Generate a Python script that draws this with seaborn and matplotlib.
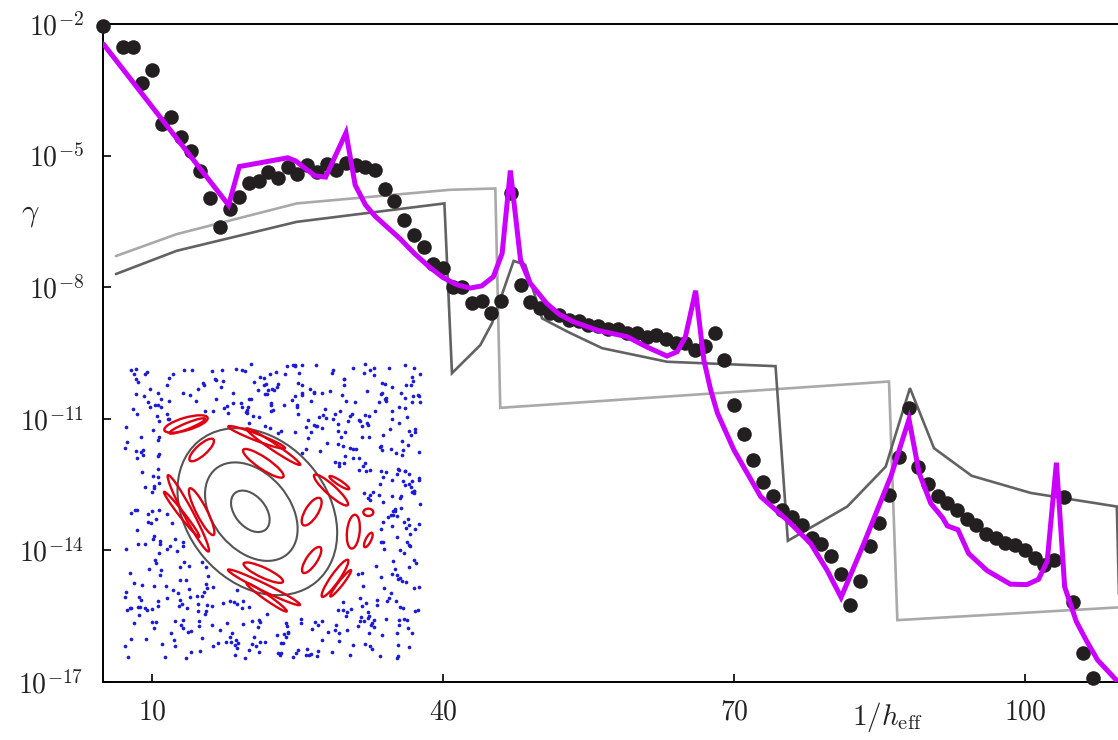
import numpy as np
import pandas as pd
import matplotlib
matplotlib.use("Agg")
import matplotlib.pyplot as plt
import seaborn as sns
from matplotlib.patches import Ellipse
from matplotlib.path import Path
from matplotlib.ticker import FixedLocator, FixedFormatter, NullLocator, NullFormatter

# ---------------- main data (log10 of gamma) ----------------
dots_x = [5, 7, 8, 9, 10, 11, 12, 13, 14, 15, 16, 17, 18, 19, 20, 21, 22, 23, 24, 25,
          26, 27, 28, 29, 30, 31, 32, 33, 34, 35, 36, 37, 38, 39, 40, 41, 42, 43, 44, 45,
          46, 47, 48, 49, 50, 51, 52, 53, 54, 55, 56, 57, 58, 59, 60, 61, 62, 63, 64, 65,
          66, 67, 68, 69, 70, 71, 72, 73, 74, 75, 76, 77, 78, 79, 80, 81, 82, 83, 84, 85,
          86, 87, 88, 89, 90, 91, 92, 93, 94, 95, 96, 97, 98, 99, 100, 101, 102, 103, 104,
          105, 106, 107]
dots_log = [-2.05, -2.52, -2.52, -3.35, -3.06, -4.28, -4.13, -4.58, -4.89, -5.34,
            -5.97, -6.62, -6.22, -5.94, -5.63, -5.59, -5.37, -5.52, -5.25, -5.42,
            -5.21, -5.37, -5.19, -5.33, -5.18, -5.21, -5.27, -5.33, -5.75, -6.03,
            -6.47, -6.81, -7.08, -7.46, -7.57, -8.00, -7.99, -8.37, -8.31, -8.59,
            -8.31, -5.85, -7.95, -8.33, -8.48, -8.59, -8.63, -8.75, -8.77, -8.86,
            -8.88, -8.96, -8.95, -9.04, -9.04, -9.13, -9.09, -9.19, -9.28, -9.28,
            -9.43, -9.34, -9.04, -9.67, -10.68, -11.35, -11.95, -12.43, -12.76, -13.08,
            -13.23, -13.42, -13.72, -13.85, -14.13, -14.54, -15.24, -14.70, -13.89, -13.37,
            -12.74, -11.88, -10.76, -12.09, -12.48, -12.75, -12.93, -13.08, -13.29, -13.42,
            -13.63, -13.72, -13.82, -13.88, -13.99, -14.18, -14.33, -14.23, -12.79,
            -15.17, -16.33, -16.91]

magenta_x = [5.0, 17.9, 19.0, 24.0, 24.8, 26.8, 27.9, 30.0, 30.95, 32.0, 33.0, 34.2, 35.6,
             37.0, 38.5, 40.0, 41.5, 42.8, 44.0, 45.2, 46.1, 46.95, 48.0, 49.0, 50.7, 52.0,
             53.5, 55.9, 59.0, 61.0, 63.1, 64.15, 65.0, 66.05, 66.9, 67.6, 68.3, 70.0, 72.75,
             75.5, 77.9, 79.6, 81.05, 83.4, 86.2, 88.05, 89.1, 90.3, 91.5, 92.0, 93.1, 94.2,
             96.1, 98.5, 100.2, 101.4, 102.3, 103.25, 104.1, 105.3, 106.3, 107.5, 109.4]
magenta_log = [-2.46, -6.13, -5.25, -5.05, -5.12, -5.46, -5.49, -4.48, -5.67, -6.12, -6.38,
               -6.62, -6.90, -7.22, -7.52, -7.78, -7.95, -8.02, -7.97, -7.76, -7.23, -5.34,
               -7.38, -7.91, -8.37, -8.62, -8.79, -8.98, -9.13, -9.36, -9.57, -9.47, -9.13,
               -8.08, -9.66, -10.34, -10.87, -11.71, -12.77, -13.31, -13.84, -14.45, -15.07,
               -13.84, -12.30, -11.01, -12.24, -12.93, -13.25, -13.44, -13.53, -14.07,
               -14.46, -14.77, -14.78, -14.66, -14.25, -12.00, -14.83, -15.62, -16.04,
               -16.50, -16.95]

light_x = [6.28, 12.55, 24.93, 40.68, 45.40, 45.91, 85.99, 86.85, 109.56]
light_log = [-7.29, -6.79, -6.09, -5.78, -5.75, -10.75, -10.15, -15.59, -15.30]

dark_x = [6.28, 12.55, 24.93, 40.15, 40.93, 43.85, 45.06, 47.29, 48.49, 50.22, 52.80,
          56.41, 63.12, 74.29, 75.56, 81.69, 85.65, 88.15, 90.63, 94.52, 100.6, 109.48,
          109.7]
dark_log = [-7.70, -7.17, -6.51, -6.09, -9.96, -9.32, -8.82, -7.40, -7.49, -8.71, -9.01,
            -9.39, -9.70, -9.80, -13.78, -13.00, -12.09, -10.30, -11.67, -12.30, -12.69,
            -13.00, -15.00]

x_major = [10, 40, 70, 100]
x_major_labels = ["$10$", "$40$", "$70$", "$100$"]
x_minor = [20, 30, 50, 60, 80, 90]
y_major_exp = [-2, -5, -8, -11, -14, -17]

# ---------------- inset data (pixel-like inset coordinates, y downward) ----------------
# gray invariant curves: centre x, centre y, width, height, angle
gray_cx = [451, 454, 472]
gray_cy = [484, 485, 485]
gray_w = [143, 334, 550]
gray_h = [92, 230, 422]
gray_ang = [50, 50, 50]

# red resonance islands: centre x, centre y, length, width, angle
isl_cx = [258, 262, 305, 470, 520, 490, 693, 718, 635, 805, 760, 805, 635, 705, 722, 492,
          500, 490, 265, 245, 305]
isl_cy = [222, 228, 300, 262, 290, 340, 420, 398, 485, 487, 545, 570, 630, 685, 700, 712,
          742, 668, 490, 493, 485]
isl_L = [135, 115, 95, 182, 194, 145, 135, 70, 95, 30, 102, 48, 92, 135, 100, 240, 147, 130,
         259, 171, 157]
isl_W = [38, 18, 32, 20, 20, 35, 30, 14, 38, 22, 38, 16, 32, 26, 14, 22, 16, 30, 28, 16, 32]
isl_ang = [-16, -22, -42, 21, 34, 34, 42, 33, -58, 0, 96, -63, -56, -55, -52, 26, 35, 25,
           62, 52, 63]

# region of regular motion (no chaotic points inside)
regular_region = [(180, 240), (250, 178), (335, 190), (385, 212), (450, 222), (565, 270),
                  (625, 330), (700, 365), (765, 400), (800, 455), (835, 475), (835, 595),
                  (775, 640), (760, 710), (700, 770), (610, 805), (540, 805), (380, 690),
                  (330, 630), (300, 610), (195, 470), (180, 360)]

# chaotic orbit of the standard map (deterministic)
K_STD = 9.7
N_ITER = 850


def chaotic_orbit(k, n, x0=0.51, p0=0.33):
    xs, ps = [], []
    x, p = x0, p0
    for _ in range(n):
        p = (p + k * np.sin(x)) % (2 * np.pi)
        x = (x + p) % (2 * np.pi)
        xs.append(x)
        ps.append(p)
    return np.array(xs), np.array(ps)


# ---------------- style ----------------
sns.set_theme(style="white")
plt.rcParams["mathtext.fontset"] = "cm"
plt.rcParams["font.family"] = ["DejaVu Serif"]

fig = plt.figure(figsize=(11.18, 7.40), dpi=100)
ax = fig.add_axes([103 / 1118, 58 / 740, 1015 / 1118, 658 / 740])
ax.set_yscale("log")

df_light = pd.DataFrame({"x": light_x, "g": 10.0 ** np.array(light_log)})
df_dark = pd.DataFrame({"x": dark_x, "g": 10.0 ** np.array(dark_log)})
df_mag = pd.DataFrame({"x": magenta_x, "g": 10.0 ** np.array(magenta_log)})
df_dots = pd.DataFrame({"x": dots_x, "g": 10.0 ** np.array(dots_log)})

sns.lineplot(data=df_light, x="x", y="g", sort=False, estimator=None, color="#a9a9a9",
             linewidth=1.9, ax=ax, zorder=2)
sns.lineplot(data=df_dark, x="x", y="g", sort=False, estimator=None, color="#626262",
             linewidth=1.9, ax=ax, zorder=2)
sns.scatterplot(data=df_dots, x="x", y="g", color="#231f20", s=110, linewidth=0,
                ax=ax, zorder=3, clip_on=False)
sns.lineplot(data=df_mag, x="x", y="g", sort=False, estimator=None, color="#cc00ff",
             linewidth=3.6, ax=ax, zorder=4)
for l in ax.lines:
    l.set_solid_joinstyle("miter")

ax.set_xlim(4.95, 109.6)
ax.set_ylim(1e-17, 1e-2)

ax.xaxis.set_major_locator(FixedLocator(x_major))
ax.xaxis.set_major_formatter(FixedFormatter(x_major_labels))
ax.xaxis.set_minor_locator(FixedLocator(x_minor))
ax.xaxis.set_minor_formatter(NullFormatter())
ax.yaxis.set_major_locator(FixedLocator([10.0 ** e for e in y_major_exp]))
ax.yaxis.set_major_formatter(FixedFormatter(["$10^{%d}$" % e for e in y_major_exp]))
ax.yaxis.set_minor_locator(NullLocator())

ax.tick_params(axis="both", which="major", direction="in", length=6, width=1.2,
               color="black", labelsize=20, labelcolor="#222222")
ax.tick_params(axis="x", which="minor", direction="in", length=5, width=1.2, color="black")
ax.tick_params(axis="x", which="major", pad=12, bottom=True)
ax.tick_params(axis="y", which="major", pad=14, left=True)

for side in ["left", "bottom", "top"]:
    ax.spines[side].set_visible(True)
    ax.spines[side].set_color("black")
    ax.spines[side].set_linewidth(1.4)
ax.spines["right"].set_visible(False)

ax.set_xlabel(r"$1/h_{\mathrm{eff}}$", fontsize=21, color="#222222")
ax.xaxis.set_label_coords(0.773, -0.028)
ax.set_ylabel(r"$\gamma$", fontsize=22, rotation=0, color="#222222")
ax.yaxis.set_label_coords(-0.072, 0.688)

# ---------------- inset ----------------
ins = ax.inset_axes([0.0187, 0.0304, 0.2956, 0.459])
ins.patch.set_alpha(0)

ox, op = chaotic_orbit(K_STD, N_ITER)
bx = 75 + ox / (2 * np.pi) * 885
by = 40 + op / (2 * np.pi) * 885
inside = Path(regular_region).contains_points(np.column_stack([bx, by]))
df_blue = pd.DataFrame({"u": bx[~inside], "v": by[~inside]})
sns.scatterplot(data=df_blue, x="u", y="v", color="#1c1cd8", s=7, linewidth=0, ax=ins)
ins.set_xlim(66, 966)
ins.set_ylim(936, 30)
ins.set_xlabel("")
ins.set_ylabel("")
ins.axis("off")

for cx, cy, w, h, a in zip(gray_cx, gray_cy, gray_w, gray_h, gray_ang):
    ins.add_patch(Ellipse((cx, cy), w, h, angle=a, fill=False, edgecolor="#555555", lw=1.5))
for cx, cy, L, W, a in zip(isl_cx, isl_cy, isl_L, isl_W, isl_ang):
    ins.add_patch(Ellipse((cx, cy), L, W, angle=a, fill=False, edgecolor="#e0000f", lw=1.7))

fig.savefig("out.png", dpi=100)
